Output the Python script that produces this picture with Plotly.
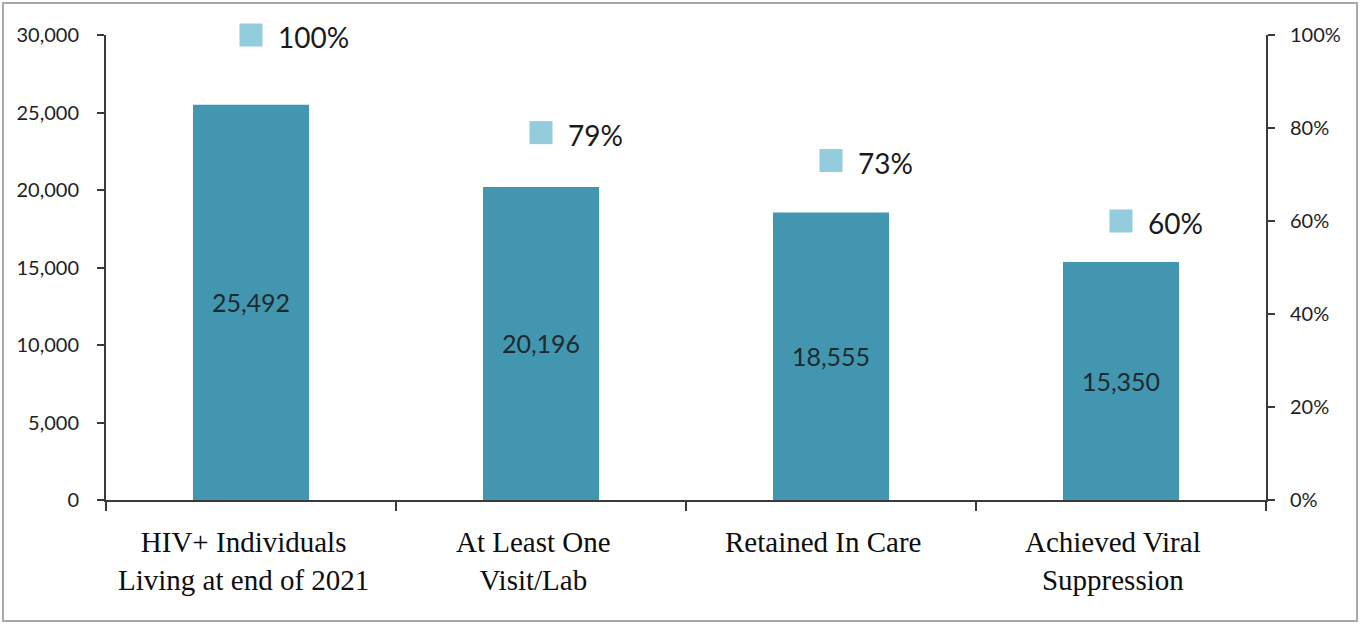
import plotly.graph_objects as go

categories = ["HIV+ Individuals<br>Living at end of 2021", "At Least One<br>Visit/Lab",
              "Retained In Care", "Achieved Viral<br>Suppression"]
counts = [25492, 20196, 18555, 15350]
count_labels = ["25,492", "20,196", "18,555", "15,350"]
percents = [1.00, 0.79, 0.73, 0.60]
percent_labels = ["100%", "79%", "73%", "60%"]

BAR = "#4396AF"
MARK = "#93CCDC"
AX = "#3a3a3a"

fig = go.Figure()
fig.add_trace(go.Bar(
    x=categories, y=counts, width=0.4, marker=dict(color=BAR, line=dict(width=0)),
    text=count_labels, textposition="inside", insidetextanchor="middle",
    textfont=dict(family="Lato", size=25, color="#1c2a30"), textangle=0,
    yaxis="y", showlegend=False, hoverinfo="skip"))
fig.add_trace(go.Scatter(
    x=categories, y=percents, mode="markers", yaxis="y2",
    marker=dict(symbol="square", size=23, color=MARK, line=dict(width=0)),
    cliponaxis=False, showlegend=False, hoverinfo="skip"))

for c, p, t in zip(categories, percents, percent_labels):
    fig.add_annotation(x=c, y=p, xref="x", yref="y2", text=t, showarrow=False,
                       xanchor="left", yanchor="middle", xshift=25, yshift=-2,
                       font=dict(family="Lato", size=28, color="#1a1a1a"))

# category labels (placed under each category, slightly left of centre as in the source)
for c in categories:
    fig.add_annotation(x=c, y=0, xref="x", yref="y", text=c, showarrow=False,
                       xanchor="center", yanchor="top", xshift=-8, yshift=-24,
                       align="center",
                       font=dict(family="Liberation Serif", size=29, color="#0d0d0d"))

# outer frame
fig.add_shape(type="rect", xref="paper", yref="paper",
              x0=(3 - 106) / 1160, x1=(1357 - 106) / 1160,
              y0=(500 - 621) / 465, y1=1 + (35 - 3) / 465,
              line=dict(color="#a8a8a8", width=2), layer="below")

fig.update_layout(
    width=1361, height=625,
    margin=dict(l=106, r=95, t=35, b=125),
    paper_bgcolor="white", plot_bgcolor="white",
    bargap=0.6,
    xaxis=dict(showline=True, linecolor=AX, linewidth=2, ticks="outside", ticklen=9,
               tickwidth=2, tickcolor=AX, tickson="boundaries", showgrid=False,
               showticklabels=False, zeroline=False),
    yaxis=dict(range=[0, 30000], dtick=5000, tickformat=",", showline=True, linecolor=AX,
               linewidth=2, ticks="outside", ticklen=7, tickwidth=2, tickcolor=AX,
               showgrid=False, zeroline=False, ticklabelstandoff=14,
               tickfont=dict(family="Lato", size=20, color="#1e1e1e")),
    yaxis2=dict(range=[0, 1], dtick=0.2, tickformat=".0%", overlaying="y", side="right",
                showline=True, linecolor=AX, linewidth=2, ticks="outside", ticklen=7,
                tickwidth=2, tickcolor=AX, showgrid=False, zeroline=False,
                ticklabelstandoff=11,
                tickfont=dict(family="Lato", size=20, color="#1e1e1e")),
)

fig.write_html("out.html", config={"displayModeBar": False},
               post_script="document.body.style.margin='0';")
